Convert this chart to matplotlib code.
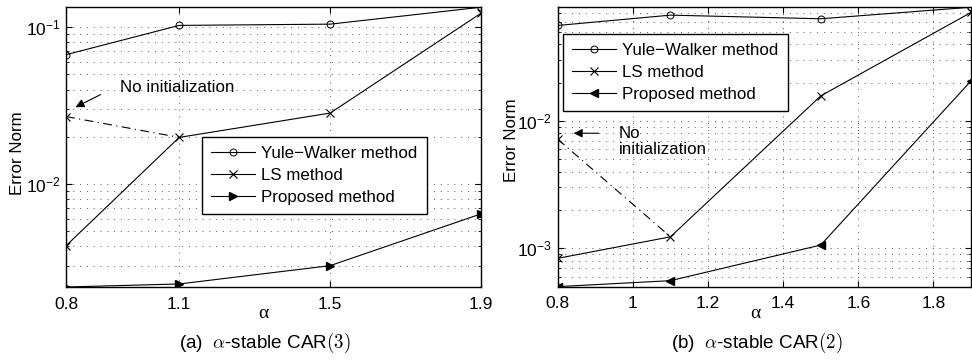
import matplotlib
matplotlib.use("Agg")
import matplotlib.pyplot as plt
from matplotlib.ticker import LogLocator, NullFormatter

plt.rcParams["font.family"] = ["Liberation Sans", "DejaVu Sans"]
plt.rcParams["mathtext.fontset"] = "cm"

# panel (a): alpha-stable CAR(3)
alpha_a = [0.8, 1.1, 1.5, 1.9]
yw_a = [0.0667, 0.1026, 0.1045, 0.134]
ls_a = [0.00403, 0.0198, 0.0283, 0.1227]
ls_noinit_a = [0.0269, 0.0198]
prop_a = [0.0022, 0.0023, 0.00301, 0.00644]
xticks_a = [0.8, 1.1, 1.5, 1.9]
xticklabels_a = ["0.8", "1.1", "1.5", "1.9"]

# panel (b): alpha-stable CAR(2)
alpha_b = [0.8, 1.1, 1.5, 1.9]
yw_b = [0.0561, 0.0676, 0.0633, 0.078]
ls_b = [0.000834, 0.00123, 0.0157, 0.071]
ls_noinit_b = [0.00718, 0.00123]
prop_b = [0.0005, 0.000557, 0.00106, 0.0206]
xticks_b = [0.8, 1.0, 1.2, 1.4, 1.6, 1.8]
xticklabels_b = ["0.8", "1", "1.2", "1.4", "1.6", "1.8"]

LABELS = ["Yule\u2212Walker method", "LS method", "Proposed method"]
GRID_STYLE = dict(color="0.35", linestyle=(0, (1, 6)), linewidth=0.7)
TEXT_SIZE = 12.2


def draw_panel(ax, x, yw, ls, ls_noinit, prop, prop_marker, ylim, xticks, xticklabels):
    ax.plot(x, yw, color="k", lw=0.8, marker="o", ms=5, mfc="none", mew=0.7,
            label=LABELS[0])
    ax.plot(x, ls, color="k", lw=0.8, marker="x", ms=6, mew=0.8, label=LABELS[1])
    ax.plot(x[:2], ls_noinit, color="k", lw=0.8, linestyle="-.",
            dashes=(8, 4, 1, 4), marker="x", ms=6, mew=0.8, markevery=[0])
    ax.plot(x, prop, color="k", lw=0.8, marker=prop_marker, ms=5.5,
            label=LABELS[2])

    ax.set_yscale("log")
    ax.set_xlim(x[0], x[-1])
    ax.set_ylim(*ylim)
    ax.set_xticks(xticks)
    ax.set_xticklabels(xticklabels)
    ax.yaxis.set_minor_locator(LogLocator(base=10, subs=range(2, 10)))
    ax.yaxis.set_minor_formatter(NullFormatter())

    ax.grid(True, which="major", axis="x", **GRID_STYLE)
    ax.grid(True, which="both", axis="y", **GRID_STYLE)
    ax.set_axisbelow(True)

    ax.tick_params(which="both", direction="in", top=True, right=True,
                   labelsize=12.5)
    ax.tick_params(axis="x", pad=7)
    ax.tick_params(axis="y", pad=4)
    ax.tick_params(which="major", length=4)
    ax.tick_params(which="minor", length=2)
    for spine in ax.spines.values():
        spine.set_linewidth(1.0)

    ax.set_xlabel("\u03b1", family="Liberation Serif", fontsize=14)


fig = plt.figure(figsize=(9.72, 3.61), dpi=100)
ax_a = fig.add_axes([0.0679, 0.205, 0.427, 0.775])
ax_b = fig.add_axes([0.5738, 0.206, 0.4252, 0.774])

draw_panel(ax_a, alpha_a, yw_a, ls_a, ls_noinit_a, prop_a, ">",
           (prop_a[0], yw_a[-1]), xticks_a, xticklabels_a)
draw_panel(ax_b, alpha_b, yw_b, ls_b, ls_noinit_b, prop_b, "<",
           (prop_b[0], yw_b[-1]), xticks_b, xticklabels_b)

ax_a.xaxis.set_label_coords(0.475, -0.066)
ax_b.xaxis.set_label_coords(0.477, -0.064)

legend_kw = dict(fontsize=TEXT_SIZE, frameon=True, fancybox=False, edgecolor="k",
                 framealpha=1, handlelength=2.6, labelspacing=0.4,
                 borderpad=0.55, handletextpad=0.35, borderaxespad=0)
leg_a = ax_a.legend(loc="upper left", bbox_to_anchor=(0.327, 0.537), **legend_kw)
leg_b = ax_b.legend(loc="upper left", bbox_to_anchor=(0.012, 0.904), **legend_kw)
for leg in (leg_a, leg_b):
    leg.get_frame().set_linewidth(1.0)

arrow_kw = dict(arrowstyle="-|>", color="k", lw=0.8, mutation_scale=13)
ax_a.annotate("No initialization", xy=(0.8186, 0.0303), xytext=(0.943, 0.0414),
              fontsize=TEXT_SIZE, va="center", ha="left")
ax_a.annotate("", xy=(0.8186, 0.0303), xytext=(0.898, 0.0378), arrowprops=arrow_kw)
ax_b.annotate("No\ninitialization", xy=(0.835, 0.0080), xytext=(0.962, 0.00688),
              fontsize=TEXT_SIZE, va="center", ha="left", linespacing=1.05)
ax_b.annotate("", xy=(0.835, 0.0080), xytext=(0.9166, 0.0080), arrowprops=arrow_kw)

fig.text(17.5 / 972, 1 - 153.5 / 361, "Error Norm", rotation=90,
         ha="center", va="center", fontsize=TEXT_SIZE)
fig.text(511 / 972, 1 - 140 / 361, "Error Norm", rotation=90,
         ha="center", va="center", fontsize=TEXT_SIZE)

fig.text(265 / 972, 1 - 343 / 361, r"(a)  $\alpha$-stable CAR$(3)$",
         ha="center", va="center", fontsize=13.6)
fig.text(757 / 972, 1 - 343 / 361, r"(b)  $\alpha$-stable CAR$(2)$",
         ha="center", va="center", fontsize=13.6)

fig.savefig("out.png", dpi=100)
